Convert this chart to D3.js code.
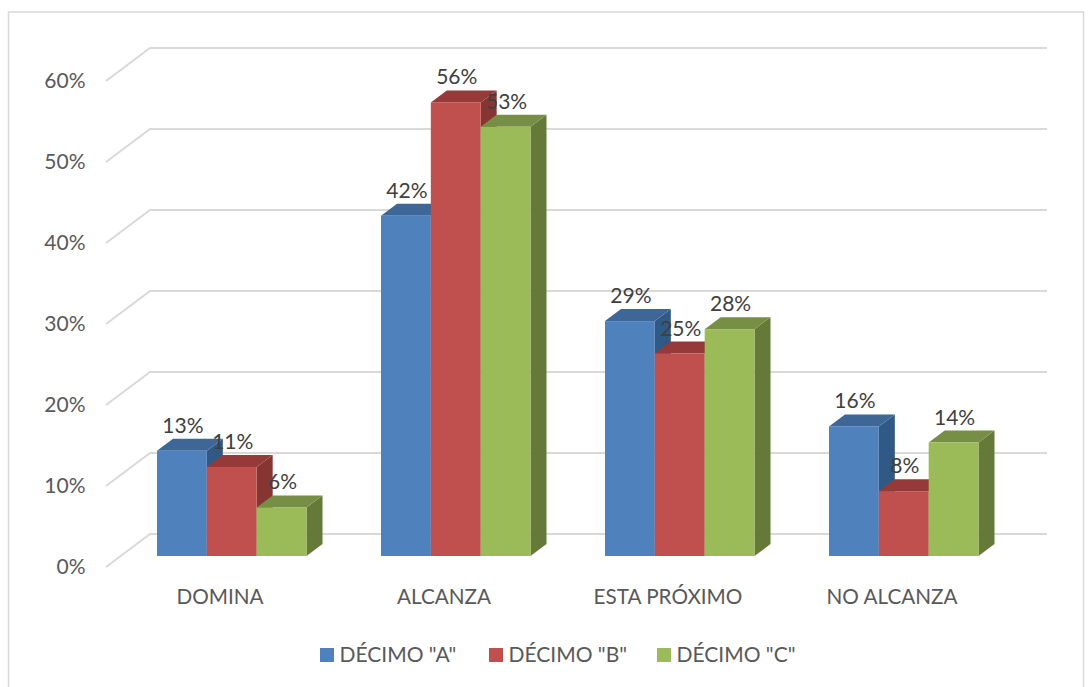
<!DOCTYPE html>
<html>
<head>
<meta charset="utf-8">
<script src="https://cdn.jsdelivr.net/npm/d3@7"></script>
<style>
  html, body { margin: 0; padding: 0; background: #fff; }
  text { font-family: Lato, "Open Sans", sans-serif; }
</style>
</head>
<body>
<svg id="chart" width="1088" height="687"></svg>
<script>
var categories = ['DOMINA', 'ALCANZA', 'ESTA PRÓXIMO', 'NO ALCANZA'];
var seriesNames = ['DÉCIMO "A"', 'DÉCIMO "B"', 'DÉCIMO "C"'];
var decimoA = [13, 42, 29, 16];
var decimoB = [11, 56, 25, 8];
var decimoC = [6, 53, 28, 14];
var yTicks = [0, 10, 20, 30, 40, 50, 60];

var seriesValues = [decimoA, decimoB, decimoC];
var colors = [
  { front: '#4f81bd', top: '#3e6696', side: '#305a85' },
  { front: '#c0504d', top: '#953a38', side: '#873533' },
  { front: '#9bbb59', top: '#768f45', side: '#657a37' }
];

var svg = d3.select('#chart');

// bars sit on this front plane, the walls are pushed back from it
var y = d3.scaleLinear().domain([0, 60]).range([556, 70]);
var x = d3.scaleBand().domain(categories).range([145, 1041]).paddingInner(0).paddingOuter(0);
var xInner = d3.scaleBand().domain([0, 1, 2]).range([12, 161.5]);

var depthX = 16, depthY = 12;
var wallX = 44, wallY = 33;   // diagonal of the floor lines
var gridLeft = 150, gridRight = 1047, gridShift = -22;

// frame
svg.append('path')
  .attr('d', 'M8.5,687V12H1083.5V687')
  .attr('fill', 'none')
  .attr('stroke', '#d9d9d9')
  .attr('stroke-width', 1.5);

// gridlines
var grid = svg.append('g');
yTicks.forEach(function (t) {
  var gy = y(t) + gridShift;
  grid.append('path')
    .attr('d', 'M' + (gridLeft - wallX) + ',' + (gy + wallY) + 'L' + gridLeft + ',' + gy + 'H' + gridRight)
    .attr('fill', 'none')
    .attr('stroke', '#d9d9d9')
    .attr('stroke-width', 2);
});

// y labels
svg.append('g').selectAll('text')
  .data(yTicks)
  .enter().append('text')
  .attr('x', 85.5)
  .attr('y', function (d) { return y(d) + 18; })
  .attr('text-anchor', 'end')
  .attr('font-size', 21)
  .attr('fill', '#595959')
  .text(function (d) { return d + '%'; });

// bars, one group per category
categories.forEach(function (cat, c) {
  var g = svg.append('g');
  seriesValues.forEach(function (vals, s) {
    var v = vals[c];
    var x0 = x(cat) + xInner(s);
    var w = xInner.bandwidth();
    var yTop = y(v), yBase = y(0);
    g.append('path') // side
      .attr('d', 'M' + (x0 + w) + ',' + yTop + 'l' + depthX + ',' + (-depthY) + 'V' + (yBase - depthY) + 'L' + (x0 + w) + ',' + yBase + 'Z')
      .attr('fill', colors[s].side);
    g.append('path') // top
      .attr('d', 'M' + x0 + ',' + yTop + 'l' + depthX + ',' + (-depthY) + 'h' + w + 'l' + (-depthX) + ',' + depthY + 'Z')
      .attr('fill', colors[s].top);
    g.append('rect')
      .attr('x', x0).attr('y', yTop)
      .attr('width', w).attr('height', yBase - yTop)
      .attr('fill', colors[s].front);
  });
});

// value labels go on top of every bar
var labels = svg.append('g');
categories.forEach(function (cat, c) {
  seriesValues.forEach(function (vals, s) {
    labels.append('text')
      .attr('x', x(cat) + xInner(s) + xInner.bandwidth() / 2 + 1)
      .attr('y', y(vals[c]) - 18)
      .attr('text-anchor', 'middle')
      .attr('font-size', 21)
      .attr('fill', '#404040')
      .text(vals[c] + '%');
  });
});

// category labels
svg.append('g').selectAll('text')
  .data(categories)
  .enter().append('text')
  .attr('x', function (d) { return x(d) + x.bandwidth() / 2 - 37; })
  .attr('y', 604)
  .attr('text-anchor', 'middle')
  .attr('font-size', 20.7)
  .attr('fill', '#595959')
  .text(function (d) { return d; });

// legend
var legendX = d3.scaleOrdinal().domain(seriesNames).range([320, 489, 657]);
var legend = svg.append('g').selectAll('g')
  .data(seriesNames)
  .enter().append('g')
  .attr('transform', function (d) { return 'translate(' + legendX(d) + ',648)'; });
legend.append('rect')
  .attr('width', 14).attr('height', 14)
  .attr('fill', function (d, i) { return colors[i].front; });
legend.append('text')
  .attr('x', 19.5).attr('y', 14)
  .attr('font-size', 21)
  .attr('fill', '#595959')
  .text(function (d) { return d; });
</script>
</body>
</html>
